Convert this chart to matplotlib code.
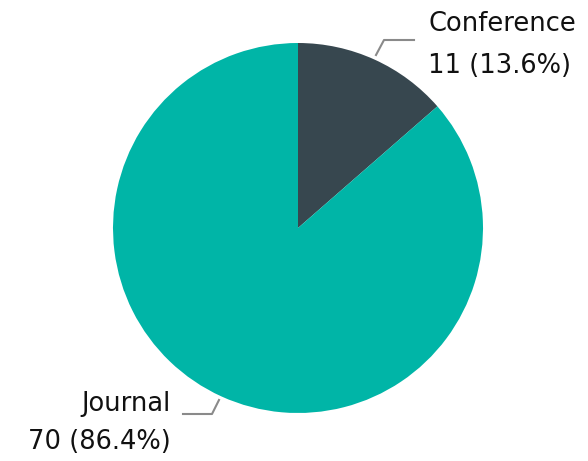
import matplotlib
matplotlib.use("Agg")
import matplotlib.pyplot as plt

categories = ["Conference", "Journal"]
counts = [11, 70]
colors = ["#37474F", "#00B5A7"]

W, H = 588, 461
fig = plt.figure(figsize=(W / 100, H / 100), dpi=100)
ax = fig.add_axes([0, 0, 1, 1])
ax.set_xlim(0, W)
ax.set_ylim(0, H)
ax.set_aspect("equal")
ax.axis("off")

cx, cy, r = 298, H - 228, 185
ax.pie(counts, colors=colors, startangle=90, counterclock=False,
       center=(cx, cy), radius=r, frame=True,
       wedgeprops=dict(linewidth=0))
ax.set_xlim(0, W)
ax.set_ylim(0, H)
ax.axis("off")

total = sum(counts)
font = dict(family=["DejaVu Sans"], fontsize=18.5, color="#111111")

# Conference label
ax.plot([376, 384, 414], [H - 55, H - 40, H - 40], color="#8a8a8a", lw=1.5)
ax.text(428, H - 31, categories[0], ha="left", va="baseline", **font)
ax.text(428, H - 73, f"{counts[0]} ({counts[0]/total*100:.1f}%)", ha="left", va="baseline", **font)

# Journal label
ax.plot([219, 212, 183], [H - 400, H - 414, H - 414], color="#8a8a8a", lw=1.5)
ax.text(171, H - 411, categories[1], ha="right", va="baseline", **font)
ax.text(171, H - 449, f"{counts[1]} ({counts[1]/total*100:.1f}%)", ha="right", va="baseline", **font)

fig.savefig("out.png", dpi=100)
